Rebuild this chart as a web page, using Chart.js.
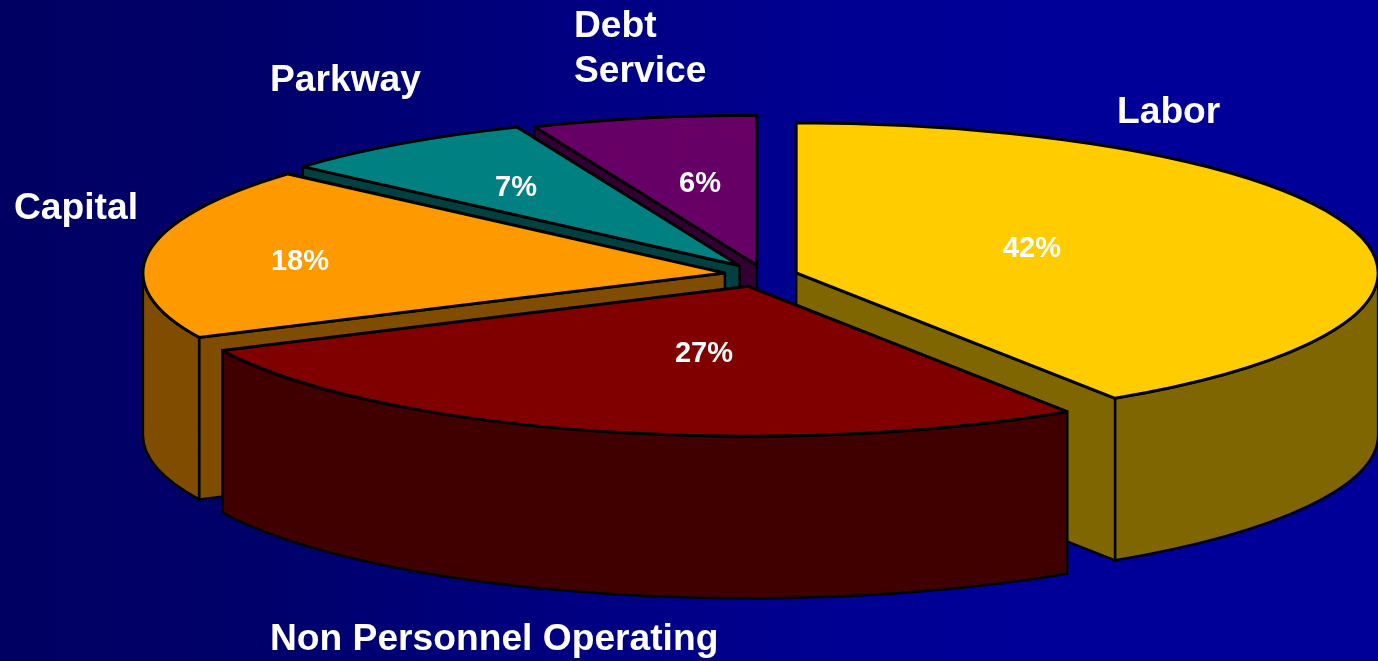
<!DOCTYPE html>
<html>
<head>
<meta charset="utf-8">
<title>Budget by category</title>
<script src="https://cdn.jsdelivr.net/npm/chart.js@4"></script>
<style>
    html, body { margin: 0; padding: 0; overflow: hidden; }
    body { width: 1378px; height: 661px; background: linear-gradient(to right, #000062, #00006c 20%, #000080 40%, #000092 60%, #000099 75%); }
    canvas { display: block; }
</style>
</head>
<body>
<canvas id="budgetPie" width="1378" height="661"></canvas>
<script>
var categories = ["Labor", "Non Personnel Operating", "Capital", "Parkway", "Debt Service"];
var shares = [42, 27, 18, 7, 6];
var sliceOffsets = [65, 91, 78, 85, 75];
var topColors = ["#ffcc00", "#800000", "#ff9900", "#008080", "#660066"];
var wallColors = ["#806600", "#400000", "#804d00", "#004040", "#330033"];

// tilted pie: the library lays out the flat pie, this squashes it to an ellipse
var pieCenter = { x: 764, y: 275 };
var rimX = 582;
var rimY = 150;
var depth = 162;
var foreshorten = 0.08;  // slight angle pull of the camera, radians
var paintOrder = [4, 3, 2, 0, 1];  // back to front

var nameLabels = [
    { lines: ["Labor"], x: 1117, y: 123 },
    { lines: ["Non Personnel Operating"], x: 270, y: 650 },
    { lines: ["Capital"], x: 14, y: 219 },
    { lines: ["Parkway"], x: 270, y: 91 },
    { lines: ["Debt", "Service"], x: 574, y: 37 }
];
var shareLabels = [
    { x: 1032, y: 249 },
    { x: 704, y: 354 },
    { x: 300, y: 262 },
    { x: 516, y: 188 },
    { x: 700, y: 184 }
];

function viewAngle(angle) {
    return angle - foreshorten * Math.sin((angle + Math.PI / 2) / 2);
}

function sliceGeometry(arc) {
    var sx = rimX / arc.outerRadius;
    var sy = rimY / arc.outerRadius;
    var mid = (arc.startAngle + arc.endAngle) / 2;
    var shift = (arc.options.offset || 0) / 4;
    return {
        x: pieCenter.x + Math.cos(mid) * shift * sx,
        y: pieCenter.y + Math.sin(mid) * shift * sy,
        start: viewAngle(arc.startAngle),
        end: viewAngle(arc.endAngle)
    };
}

function rimPoint(g, angle) {
    return { x: g.x + Math.cos(angle) * rimX, y: g.y + Math.sin(angle) * rimY };
}

function paintPath(ctx, fill, lineWidth) {
    ctx.fillStyle = fill;
    ctx.fill();
    ctx.lineWidth = lineWidth;
    ctx.strokeStyle = "#000000";
    ctx.lineJoin = "miter";
    ctx.miterLimit = 2;
    ctx.stroke();
}

function drawCutWall(ctx, g, angle, fill) {
    var p = rimPoint(g, angle);
    ctx.beginPath();
    ctx.moveTo(g.x, g.y);
    ctx.lineTo(p.x, p.y);
    ctx.lineTo(p.x, p.y + depth);
    ctx.lineTo(g.x, g.y + depth);
    ctx.closePath();
    paintPath(ctx, fill, 2.5);
}

function drawOuterWall(ctx, g, fill) {
    // only the part of the rim on the near side of the ellipse shows
    var a = Math.max(g.start, 0);
    var b = Math.min(g.end, Math.PI);
    if (a >= b) {
        return;
    }
    ctx.beginPath();
    ctx.ellipse(g.x, g.y, rimX, rimY, 0, a, b);
    ctx.ellipse(g.x, g.y + depth, rimX, rimY, 0, b, a, true);
    ctx.closePath();
    paintPath(ctx, fill, 2.5);
}

function drawSlice(ctx, arc, index) {
    var g = sliceGeometry(arc);
    if (Math.cos(g.start) < -0.05) {
        drawCutWall(ctx, g, g.start, wallColors[index]);
    }
    if (Math.cos(g.end) > 0.05) {
        drawCutWall(ctx, g, g.end, wallColors[index]);
    }
    drawOuterWall(ctx, g, wallColors[index]);

    ctx.beginPath();
    ctx.moveTo(g.x, g.y);
    ctx.ellipse(g.x, g.y, rimX, rimY, 0, g.start, g.end);
    ctx.closePath();
    paintPath(ctx, topColors[index], 3);
}

var tiltedPie = {
    id: "tiltedPie",
    beforeDatasetsDraw: function (chart) {
        var arcs = chart.getDatasetMeta(0).data;
        paintOrder.forEach(function (i) {
            drawSlice(chart.ctx, arcs[i], i);
        });
        return false;
    },
    afterDraw: function (chart) {
        var ctx = chart.ctx;
        ctx.save();
        ctx.fillStyle = "#ffffff";
        ctx.textBaseline = "alphabetic";
        ctx.textAlign = "left";
        ctx.font = "bold 37.2px 'Liberation Sans'";
        nameLabels.forEach(function (label) {
            label.lines.forEach(function (line, n) {
                ctx.fillText(line, label.x, label.y + n * 45);
            });
        });
        ctx.textAlign = "center";
        ctx.textBaseline = "middle";
        ctx.font = "bold 29px 'Liberation Sans'";
        shareLabels.forEach(function (label, i) {
            ctx.fillText(shares[i] + "%", label.x, label.y);
        });
        ctx.restore();
    }
};

new Chart(document.getElementById("budgetPie").getContext("2d"), {
    type: "pie",
    data: {
        labels: categories,
        datasets: [{
            data: shares,
            backgroundColor: topColors,
            offset: sliceOffsets,
            borderWidth: 0
        }]
    },
    options: {
        responsive: false,
        animation: false,
        plugins: {
            legend: { display: false },
            tooltip: { enabled: false }
        }
    },
    plugins: [tiltedPie]
});
</script>
</body>
</html>
